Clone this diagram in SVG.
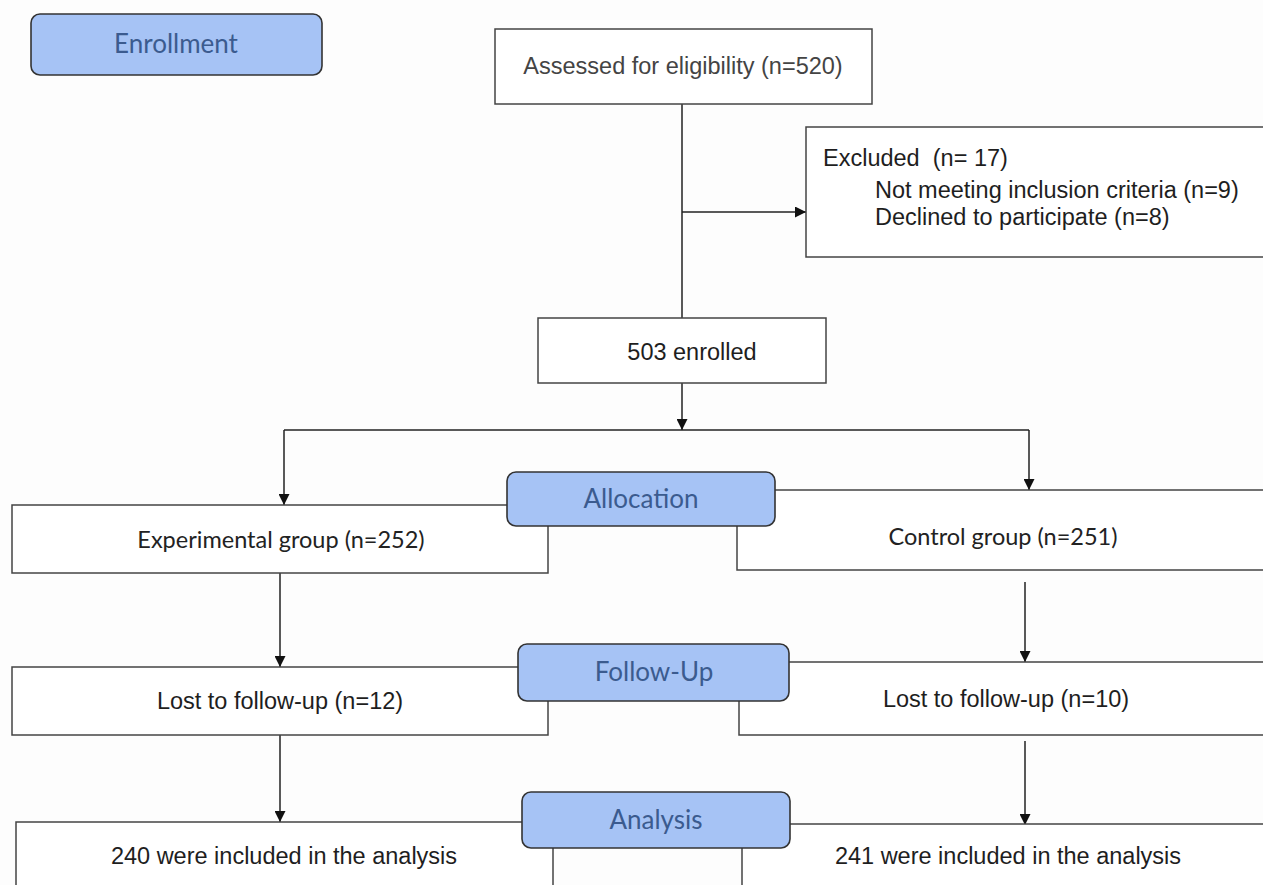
<svg xmlns="http://www.w3.org/2000/svg" width="1263" height="885" viewBox="0 0 1263 885">
<defs>
<marker id="arr" viewBox="0 0 10 10" refX="10" refY="5" markerWidth="11" markerHeight="11" markerUnits="userSpaceOnUse" orient="auto">
<path d="M0,0 L10,5 L0,10 z" fill="#111"/>
</marker>
<style>
.box{fill:#fff;stroke:#444;stroke-width:1.5}
.stage{fill:#a6c3f5;stroke:#333;stroke-width:1.6}
.stxt{font-family:Lato,"Open Sans",sans-serif;font-size:26px;fill:#3b5b8f;text-anchor:middle}
.atxt{font-family:"Liberation Sans",Arial,sans-serif;font-size:23.5px;fill:#1e1e1e;white-space:pre}
.ctxt{font-family:Lato,"Open Sans",sans-serif;font-size:23.5px;fill:#222;text-anchor:middle}
.mid{text-anchor:middle}
.conn{fill:none;stroke:#222;stroke-width:1.5}
</style>
</defs>
<rect width="1263" height="885" fill="#fdfdfd"/>
<g id="connectors">
<path class="conn" d="M682,104 V318"/>
<path class="conn" d="M682,212 H806" marker-end="url(#arr)"/>
<path class="conn" d="M682,383 V430" marker-end="url(#arr)"/>
<path class="conn" d="M284,430 H1029"/>
<path class="conn" d="M284,430 V505" marker-end="url(#arr)"/>
<path class="conn" d="M1029,430 V490" marker-end="url(#arr)"/>
<path class="conn" d="M280,573 V667" marker-end="url(#arr)"/>
<path class="conn" d="M1025,582 V662" marker-end="url(#arr)"/>
<path class="conn" d="M280,735 V822" marker-end="url(#arr)"/>
<path class="conn" d="M1025,741 V825" marker-end="url(#arr)"/>
</g>
<g id="enrollment">
<rect class="stage" x="31" y="14" width="291" height="61" rx="9"/>
<text class="stxt" x="176" y="53">Enrollment</text>
</g>
<g id="assessed">
<rect class="box" x="495" y="29" width="377" height="75"/>
<text class="atxt mid" x="683" y="74" style="fill:#444">Assessed for eligibility (n=520)</text>
</g>
<g id="excluded">
<rect class="box" x="806" y="127" width="470" height="130"/>
<text class="atxt" x="823" y="166" xml:space="preserve">Excluded  (n= 17)</text>
<text class="atxt" x="875" y="198">Not meeting inclusion criteria (n=9)</text>
<text class="atxt" x="875" y="225">Declined to participate (n=8)</text>
</g>
<g id="enrolled">
<rect class="box" x="538" y="318" width="288" height="65"/>
<text class="atxt mid" x="692" y="360">503 enrolled</text>
</g>
<g id="experimental">
<rect class="box" x="12" y="505" width="536" height="68"/>
<text class="ctxt" x="281" y="548">Experimental group (n=252)</text>
</g>
<g id="control">
<path class="box" d="M737,490 H1270 V570 H737 Z"/>
<text class="ctxt" x="1003" y="545">Control group (n=251)</text>
</g>
<g id="allocation">
<rect class="stage" x="507" y="472" width="268" height="54" rx="9"/>
<text class="stxt" x="641" y="508">Allocation</text>
</g>
<g id="lost-left">
<rect class="box" x="12" y="667" width="536" height="68"/>
<text class="atxt mid" x="280" y="709">Lost to follow-up (n=12)</text>
</g>
<g id="lost-right">
<path class="box" d="M739,662 H1270 V735 H739 Z"/>
<text class="atxt mid" x="1006" y="707">Lost to follow-up (n=10)</text>
</g>
<g id="followup">
<rect class="stage" x="518" y="644" width="271" height="57" rx="9"/>
<text class="stxt" x="654" y="681">Follow-Up</text>
</g>
<g id="analysis-left">
<rect class="box" x="16" y="822" width="537" height="80"/>
<text class="atxt mid" x="284" y="864">240 were included in the analysis</text>
</g>
<g id="analysis-right">
<path class="box" d="M742,824 H1270 V900 H742 Z"/>
<text class="atxt mid" x="1008" y="864">241 were included in the analysis</text>
</g>
<g id="analysis">
<rect class="stage" x="522" y="792" width="268" height="56" rx="9"/>
<text class="stxt" x="656" y="829">Analysis</text>
</g>
</svg>
